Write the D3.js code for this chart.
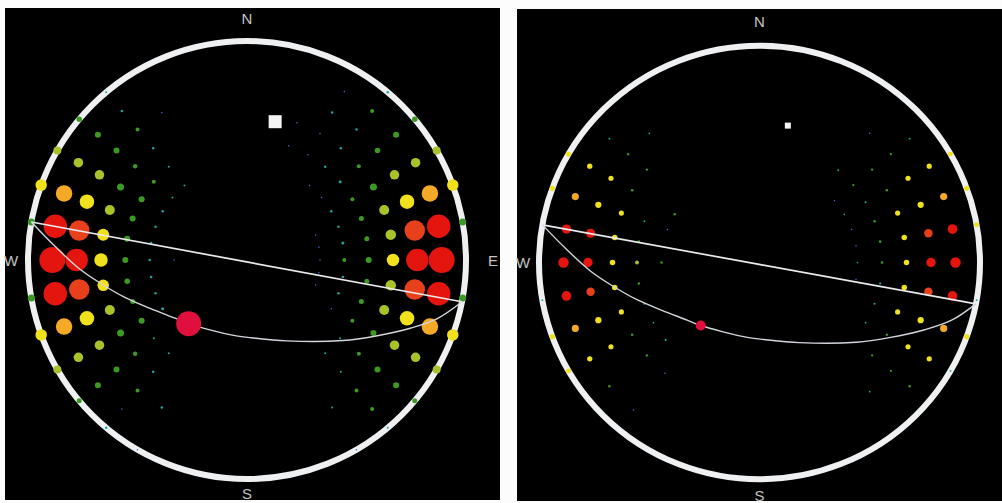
<!DOCTYPE html>
<html>
<head>
<meta charset="utf-8">
<script src="https://cdn.jsdelivr.net/npm/d3@7"></script>
<style>
  html, body { margin: 0; padding: 0; background: #fcfcfc; }
  svg { display: block; }
</style>
</head>
<body>
<svg id="chart" width="1002" height="503"></svg>
<script>
// Sky grid: azimuth (deg, clockwise from N) x altitude (deg above horizon)
const azimuths = d3.range(0, 360, 10);
const altitudes = [0, 10, 20, 30, 40, 50, 60, 70, 80];

// Left dome: one row per azimuth, one column per altitude
const leftValues = [
  [0, 0, 0, 0, 0, 0, 0, 0, 0],     // 0
  [0, 0, 0, 0, 0, 0, 0, 0, 0],     // 10
  [0, 0, 0, 3, 3, 0, 0, 0, 0],     // 20
  [0, 3, 5, 3, 3, 0, 0, 0, 0],     // 30
  [5, 8, 5, 5, 5, 3, 0, 0, 0],     // 40
  [11, 12, 11, 8, 6, 3, 0, 0, 0],  // 50
  [16, 19, 19, 14, 8, 5, 0, 0, 0], // 60
  [23, 33, 29, 20, 10, 5, 3, 0, 0],// 70
  [14, 47, 41, 21, 10, 6, 3, 0, 0],// 80
  [0, 52, 45, 25, 12, 8, 3, 0, 0], // 90
  [14, 47, 41, 21, 10, 5, 3, 0, 0],// 100
  [23, 33, 29, 20, 10, 5, 3, 0, 0],// 110
  [16, 19, 19, 12, 8, 3, 0, 0, 0], // 120
  [10, 12, 12, 8, 4, 0, 0, 0, 0],  // 130
  [4, 8, 8, 4, 4, 0, 0, 0, 0],     // 140
  [3, 0, 4, 0, 0, 0, 0, 0, 0],     // 150
  [0, 0, 0, 0, 0, 0, 0, 0, 0],     // 160
  [0, 0, 0, 0, 0, 0, 0, 0, 0],     // 170
  [0, 0, 0, 0, 0, 0, 0, 0, 0],     // 180
  [0, 0, 0, 0, 0, 0, 0, 0, 0],     // 190
  [0, 0, 0, 0, 0, 0, 0, 0, 0],     // 200
  [3, 0, 5, 0, 0, 0, 0, 0, 0],     // 210
  [5, 3, 8, 5, 4, 0, 0, 0, 0],     // 220
  [10, 12, 12, 9, 4, 0, 0, 0, 0],  // 230
  [16, 19, 19, 14, 12, 6, 0, 0, 0],// 240
  [23, 33, 29, 20, 10, 5, 0, 0, 0],// 250
  [14, 47, 41, 23, 11, 5, 0, 0, 0],// 260
  [0, 52, 45, 27, 12, 5, 3, 0, 0], // 270
  [14, 47, 41, 24, 12, 5, 0, 0, 0],// 280
  [23, 33, 29, 20, 12, 5, 0, 0, 0],// 290
  [16, 19, 19, 14, 12, 5, 0, 0, 0],// 300
  [11, 12, 12, 9, 8, 4, 0, 0, 0],  // 310
  [4, 5, 8, 5, 4, 4, 0, 0, 0],     // 320
  [0, 0, 3, 0, 0, 0, 0, 0, 0],     // 330
  [0, 0, 0, 0, 0, 0, 0, 0, 0],     // 340
  [0, 0, 0, 0, 0, 0, 0, 0, 0]      // 350
];

// Right dome
const rightValues = [
  [0, 0, 0, 0, 0, 0, 0, 0, 0],     // 0
  [0, 0, 0, 0, 0, 0, 0, 0, 0],     // 10
  [0, 0, 0, 0, 0, 0, 0, 0, 0],     // 20
  [0, 0, 0, 0, 0, 0, 0, 0, 0],     // 30
  [0, 0, 3, 0, 5, 0, 0, 0, 0],     // 40
  [0, 5, 7, 8, 7, 3, 0, 0, 0],     // 50
  [22, 23, 23, 9, 6, 4, 0, 0, 0],  // 60
  [24, 34, 29, 23, 8, 3, 0, 0, 0], // 70
  [22, 48, 41, 25, 9, 3, 0, 0, 0], // 80
  [0, 52, 47, 25, 8, 4, 0, 0, 0],  // 90
  [5, 48, 41, 25, 6, 3, 0, 0, 0],  // 100
  [24, 34, 29, 23, 6, 0, 0, 0, 0], // 110
  [5, 23, 23, 8, 4, 0, 0, 0, 0],   // 120
  [0, 8, 7, 7, 0, 0, 0, 0, 0],     // 130
  [0, 0, 4, 0, 0, 0, 0, 0, 0],     // 140
  [0, 0, 0, 0, 0, 0, 0, 0, 0],     // 150
  [0, 0, 0, 0, 0, 0, 0, 0, 0],     // 160
  [0, 0, 0, 0, 0, 0, 0, 0, 0],     // 170
  [0, 0, 0, 0, 0, 0, 0, 0, 0],     // 180
  [0, 0, 0, 0, 0, 0, 0, 0, 0],     // 190
  [0, 0, 0, 0, 0, 0, 0, 0, 0],     // 200
  [0, 0, 0, 0, 0, 0, 0, 0, 0],     // 210
  [0, 3, 0, 3, 0, 0, 0, 0, 0],     // 220
  [0, 8, 0, 8, 6, 0, 0, 0, 0],     // 230
  [22, 24, 23, 9, 4, 0, 0, 0, 0],  // 240
  [24, 34, 29, 23, 5, 0, 0, 0, 0], // 250
  [5, 48, 41, 25, 8, 0, 0, 0, 0],  // 260
  [0, 52, 46, 25, 16, 8, 0, 0, 0], // 270
  [0, 46, 45, 25, 8, 0, 0, 0, 0],  // 280
  [24, 34, 29, 23, 5, 3, 0, 0, 0], // 290
  [23, 24, 23, 9, 0, 8, 0, 0, 0],  // 300
  [0, 5, 8, 8, 0, 0, 0, 0, 0],     // 310
  [0, 0, 4, 0, 0, 0, 0, 0, 0],     // 320
  [0, 0, 0, 0, 0, 0, 0, 0, 0],     // 330
  [0, 0, 0, 0, 0, 0, 0, 0, 0],     // 340
  [0, 0, 0, 0, 0, 0, 0, 0, 0]      // 350
];

// Two arcs across the dome, as [azimuth, altitude] points
const arcUpper = [[280, 0], [190.5, 89.2], [101, 0]];
const arcLower = [
  [280, 0], [274, 11], [267, 21], [261, 29], [253, 37.5], [243.5, 45.5],
  [231, 52], [222.5, 54.5], [208, 57.5], [188, 58.5], [177, 58], [154, 53],
  [130, 38.5], [120.5, 28.5], [112.5, 17], [107, 8], [101, 0]
];

// Highlighted position on the lower arc and the square marker
const highlight = { az: 222.5, alt: 54.5, value: 50 };
const squareMark = { az: 11.5, alt: 32 };

// Value classes -> colours
const colour = d3.scaleThreshold()
  .domain([4, 7, 15, 22, 30, 38, 44])
  .range(["#3b6fd8", "#1fa5a0", "#3a9a22", "#a9c22a", "#f1e11c", "#f4aa26", "#e8401a", "#e3150e"]);

const panels = [
  { values: leftValues, cx: 247, cy: 260, R: 219, ky: 1,
    box: [5, 8, 500, 500], size: [0, 13], square: 13,
    letters: [{ text: "N", dx: 0, dy: -242 }, { text: "S", dx: 0, dy: 233 },
              { text: "W", dx: -236, dy: 0 }, { text: "E", dx: 246, dy: 0 }] },
  { values: rightValues, cx: 759.5, cy: 262.5, R: 220.5, ky: 0.983,
    box: [517, 9, 1002, 501], size: [0.5, 5.2], square: 6,
    letters: [{ text: "N", dx: 0, dy: -241.5 }, { text: "S", dx: 0, dy: 232.5 },
              { text: "W", dx: -236.5, dy: 0 }] }
];

const svg = d3.select("#chart");

panels.forEach(p => {
  const g = svg.append("g");
  const x = d3.scaleLinear().domain([-1, 1]).range([p.cx - p.R, p.cx + p.R]);
  const y = d3.scaleLinear().domain([-1, 1]).range([p.cy - p.R * p.ky, p.cy + p.R * p.ky]);
  const radial = d3.scaleLinear().domain([90, 0]).range([0, 1]);
  const size = d3.scaleLinear().domain([0, 52]).range(p.size);
  const project = (az, alt) => {
    const [u, v] = d3.pointRadial(az * Math.PI / 180, radial(alt));
    return [x(u), y(v)];
  };

  // background
  g.append("rect")
    .attr("x", p.box[0]).attr("y", p.box[1])
    .attr("width", p.box[2] - p.box[0]).attr("height", p.box[3] - p.box[1])
    .attr("fill", "#000");

  // horizon ring
  g.append("ellipse")
    .attr("cx", x(0)).attr("cy", y(0))
    .attr("rx", x(1) - x(0)).attr("ry", y(1) - y(0))
    .attr("fill", "none").attr("stroke", "#eef0f2").attr("stroke-width", 6);

  // grid values
  const cells = [];
  azimuths.forEach((az, i) => altitudes.forEach((alt, j) => {
    const v = p.values[i][j];
    if (v > 0) cells.push({ az, alt, v });
  }));
  g.append("g").selectAll("circle").data(cells).join("circle")
    .attr("cx", d => project(d.az, d.alt)[0])
    .attr("cy", d => project(d.az, d.alt)[1])
    .attr("r", d => size(d.v))
    .attr("fill", d => colour(d.v));

  // arcs
  const line = d3.line().x(d => project(d[0], d[1])[0]).y(d => project(d[0], d[1])[1]);
  g.append("path").datum(arcUpper)
    .attr("d", line.curve(d3.curveLinear))
    .attr("fill", "none").attr("stroke", "#e8eaee").attr("stroke-width", 1.7);
  g.append("path").datum(arcLower)
    .attr("d", line.curve(d3.curveCatmullRom))
    .attr("fill", "none").attr("stroke", "#d2d6dc").attr("stroke-width", 1.4);

  // highlighted point
  const h = project(highlight.az, highlight.alt);
  g.append("circle")
    .attr("cx", h[0]).attr("cy", h[1])
    .attr("r", size(highlight.value))
    .attr("fill", "#e0103c");

  // square marker
  const s = project(squareMark.az, squareMark.alt);
  g.append("rect")
    .attr("x", s[0] - p.square / 2).attr("y", s[1] - p.square / 2)
    .attr("width", p.square).attr("height", p.square)
    .attr("fill", "#f4f4f4");

  // compass letters
  g.append("g").selectAll("text").data(p.letters).join("text")
    .attr("x", d => p.cx + d.dx)
    .attr("y", d => p.cy + d.dy)
    .attr("text-anchor", "middle")
    .attr("dominant-baseline", "central")
    .attr("font-family", "Liberation Sans, Arial, sans-serif")
    .attr("font-size", 15)
    .attr("fill", "#c4c4c4")
    .text(d => d.text);
});
</script>
</body>
</html>
